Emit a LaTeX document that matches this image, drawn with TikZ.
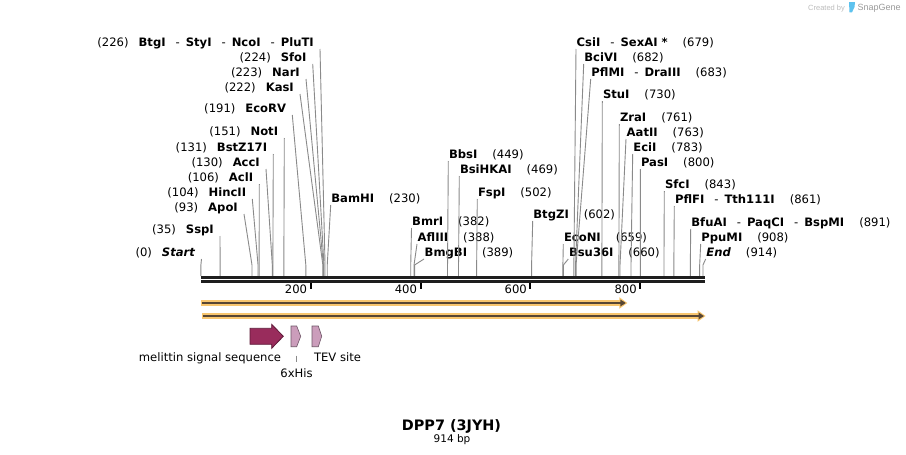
\documentclass[tikz,border=0pt]{standalone}
\usepackage{fontspec}
\setmainfont{DejaVu Sans}
\newfontfamily\logofont{Liberation Sans}
\usetikzlibrary{calc}

\definecolor{cutline}{HTML}{8A8A8A}
\definecolor{bbone}{HTML}{1E1E1E}
\definecolor{orfO}{HTML}{F8C66F}
\definecolor{orfD}{HTML}{574634}
\definecolor{melF}{HTML}{992C5C}
\definecolor{melB}{HTML}{5E1A38}
\definecolor{pinkF}{HTML}{CB9DBB}
\definecolor{pinkB}{HTML}{6E5566}
\definecolor{logoA}{HTML}{BDBDBD}
\definecolor{logoB}{HTML}{9A9A9A}
\definecolor{logoC}{HTML}{5DC2EE}

\newcommand\esep{\hspace{10pt}-\hspace{6pt}}
% left label: id, line-top x, label y, bp, names
\newcommand\enzL[5]{%
  \coordinate (#1-cut) at ({200.9+0.5493*#4},265);
  \draw[cut] (#2,#3+7) -- (#1-cut) -- ++(0,11);
  \node[lab, anchor=base east] (#1) at (#2-6,#3+4.5) {(#4)\hspace{10pt}#5};
}
% right label: id, line-top x, label y, bp, names
\newcommand\enzR[5]{%
  \coordinate (#1-cut) at ({200.9+0.5493*#4},265);
  \draw[cut] (#2,#3+7) -- (#1-cut) -- ++(0,11);
  \node[lab, anchor=base west] (#1) at (#2+0.5,#3+4.5) {#5\hspace{15pt}(#4)};
}
% orf arrow: x0, x1, y
\newcommand\orfarrow[3]{%
  \fill[orfO] (#1,#3-2.8) -- (#2-8,#3-2.8) -- (#2-8,#3-5.8) -- (#2,#3) -- (#2-8,#3+5.8) -- (#2-8,#3+2.8) -- (#1,#3+2.8) -- cycle;
  \draw[orfD, line width=1.8pt] (#1+1,#3) -- (#2-6,#3);
  \fill[orfD] (#2-7,#3-3.5) -- (#2-1.6,#3) -- (#2-7,#3+3.5) -- cycle;
}

\begin{document}
\begin{tikzpicture}[x=1pt,y=-1pt,
  lab/.style={inner sep=0pt, font=\fontsize{11.6}{13.5}\selectfont},
  flab/.style={inner sep=0pt, font=\fontsize{11.6}{13.5}\selectfont, anchor=base},
  cut/.style={draw=cutline, line width=0.9pt}]
\useasboundingbox (0,0) rectangle (906,455);
\fill[white] (0,0) rectangle (906,455);

% logo
\node[inner sep=0pt, anchor=base west, text=logoA, font=\logofont\fontsize{7.5}{9}\selectfont] (created) at (808,10.3) {Created by};
\fill[logoC] (849,2) -- (855,2) -- (854.5,7) -- (852,12.3) -- (849.5,12.3) -- cycle;
\node[inner sep=0pt, anchor=base west, text=logoB, font=\logofont\fontsize{9}{11}\selectfont] (snapgene) at (857.5,10.5) {SnapGene};

% left labels
\enzL{btgi}{320}{42}{226}{\textbf{BtgI}\esep\textbf{StyI}\esep\textbf{NcoI}\esep\textbf{PluTI}}
\enzL{sfoi}{312.7}{57}{224}{\textbf{SfoI}}
\enzL{nari}{306}{72}{223}{\textbf{NarI}}
\enzL{kasi}{300}{87}{222}{\textbf{KasI}}
\enzL{ecorv}{292.3}{108}{191}{\textbf{EcoRV}}
\enzL{noti}{284.3}{131}{151}{\textbf{NotI}}
\enzL{bstz}{273.3}{147}{131}{\textbf{BstZ17I}}
\enzL{acci}{266}{162}{130}{\textbf{AccI}}
\enzL{acli}{259.3}{177}{106}{\textbf{AclI}}
\enzL{hincii}{252.3}{192}{104}{\textbf{HincII}}
\enzL{apoi}{244}{207}{93}{\textbf{ApoI}}
\enzL{sspi}{220}{229}{35}{\textbf{SspI}}
\enzL{start}{201.5}{252}{0}{\textbf{\textit{Start}}}

% right labels
\enzR{bamhi}{330.7}{198}{230}{\textbf{BamHI}}
\enzR{bmri}{411.5}{221}{382}{\textbf{BmrI}}
\enzR{afliii}{417}{237}{388}{\textbf{AflIII}}
\enzR{bmgbi}{424}{252}{389}{\textbf{BmgBI}}
\enzR{bbsi}{448.3}{154}{449}{\textbf{BbsI}}
\enzR{bsihkai}{459.3}{169}{469}{\textbf{BsiHKAI}}
\enzR{fspi}{477.3}{192}{502}{\textbf{FspI}}
\enzR{btgzi}{532.7}{214}{602}{\textbf{BtgZI}}
\enzR{econi}{563.3}{237}{659}{\textbf{EcoNI}}
\enzR{bsu}{568.3}{252}{660}{\textbf{Bsu36I}}
\enzR{csii}{576}{42}{679}{\textbf{CsiI}\esep\textbf{SexAI *}}
\enzR{bcivi}{583.7}{57}{682}{\textbf{BciVI}}
\enzR{pflmi}{590.7}{72}{683}{\textbf{PflMI}\esep\textbf{DraIII}}
\enzR{stui}{602.3}{94}{730}{\textbf{StuI}}
\enzR{zrai}{619.3}{117}{761}{\textbf{ZraI}}
\enzR{aatii}{626}{132}{763}{\textbf{AatII}}
\enzR{ecii}{632.7}{147}{783}{\textbf{EciI}}
\enzR{pasi}{640.3}{162}{800}{\textbf{PasI}}
\enzR{sfci}{664.3}{184}{843}{\textbf{SfcI}}
\enzR{pflfi}{674.3}{199}{861}{\textbf{PflFI}\esep\textbf{Tth111I}}
\enzR{bfuai}{690.7}{222}{891}{\textbf{BfuAI}\esep\textbf{PaqCI}\esep\textbf{BspMI}}
\enzR{ppumi}{700.7}{237}{908}{\textbf{PpuMI}}
\enzR{end}{705.7}{252}{914}{\textbf{\textit{End}}}

% backbone
\coordinate (bbL) at (201,277.4);
\coordinate (bbR) at (705,277.4);
\draw[bbone, line width=2.6pt] (bbL) -- (bbR);
\draw[bbone, line width=2.6pt] ($(bbL)+(0,4.2)$) -- ($(bbR)+(0,4.2)$);

% ticks
\foreach \v in {200,400,600,800} {
  \coordinate (t\v) at ({200.9+0.5493*\v},283);
  \draw[black, line width=2pt] (t\v) -- ++(0,6);
  \node[lab, anchor=base east] (tl\v) at ($(t\v)+(-3.5,10.3)$) {\v};
}

% ORFs
\orfarrow{201}{627.3}{303}
\orfarrow{202}{705.5}{316}

% features
\filldraw[fill=melF, draw=melB, line width=0.8pt] (250,328.3) -- (271.7,328.3) -- (271.7,324.3) -- (283.3,336.3) -- (271.7,348.3) -- (271.7,344.3) -- (250,344.3) -- cycle;
\filldraw[fill=pinkF, draw=pinkB, line width=0.6pt] (291,326) -- (296.7,326) -- (300.7,336.3) -- (296.7,346.7) -- (291,346.7) -- cycle;
\filldraw[fill=pinkF, draw=pinkB, line width=0.6pt] (312,326) -- (318.3,326) -- (321.7,336.3) -- (318.3,346.7) -- (312,346.7) -- cycle;

\node[flab] (melL) at (210,361) {melittin signal sequence};
\node[flab] (tevL) at (337.5,361) {TEV site};
\node[flab] (hisL) at (296.5,377.5) {6xHis};
\coordinate (hisF) at (296.7,355.5);
\coordinate (hisT) at (296.7,362);
\draw[cutline, line width=0.8pt] (hisF) -- (hisT);

% title
\node[inner sep=0pt, anchor=base, font=\bfseries\fontsize{14.4}{16}\selectfont] (title) at (451.5,430) {DPP7 (3JYH)};
\node[inner sep=0pt, anchor=base, font=\fontsize{10.5}{12}\selectfont] (size) at (452,442.5) {914 bp};
\end{tikzpicture}
\end{document}
